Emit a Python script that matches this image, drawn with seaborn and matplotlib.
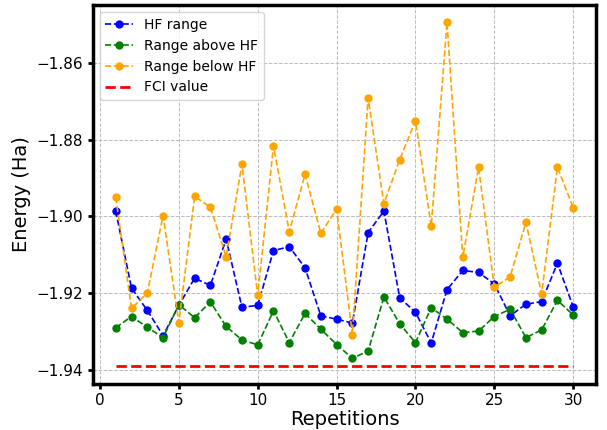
import numpy as np
import pandas as pd
import seaborn as sns
from matplotlib import pyplot as plt

reps = list(range(1, 31))

hf_range = [-1.8986, -1.9187, -1.9245, -1.9311, -1.9232, -1.9161, -1.9180, -1.9059, -1.9237, -1.9232,
            -1.9089, -1.9079, -1.9134, -1.9259, -1.9268, -1.9278, -1.9042, -1.8986, -1.9212, -1.9250,
            -1.9330, -1.9191, -1.9141, -1.9146, -1.9176, -1.9259, -1.9229, -1.9222, -1.9122, -1.9236]

above_hf = [-1.9290, -1.9261, -1.9289, -1.9316, -1.9230, -1.9264, -1.9223, -1.9287, -1.9322, -1.9335,
            -1.9246, -1.9329, -1.9253, -1.9294, -1.9334, -1.9370, -1.9351, -1.9210, -1.9280, -1.9329,
            -1.9238, -1.9268, -1.9303, -1.9299, -1.9261, -1.9242, -1.9316, -1.9296, -1.9219, -1.9257]

below_hf = [-1.8950, -1.9240, -1.9200, -1.8998, -1.9277, -1.8948, -1.8976, -1.9105, -1.8864, -1.9206,
            -1.8816, -1.9040, -1.8890, -1.9044, -1.8981, -1.9308, -1.8691, -1.8967, -1.8852, -1.8750,
            -1.9026, -1.8494, -1.9107, -1.8872, -1.9184, -1.9158, -1.9015, -1.9202, -1.8872, -1.8977]

fci_value = -1.9391

df = pd.DataFrame({
    'rep': reps,
    'HF range': hf_range,
    'Range above HF': above_hf,
    'Range below HF': below_hf,
})

fig, ax = plt.subplots(figsize=(6.07, 4.3), dpi=100)
fig.subplots_adjust(left=0.153, right=0.982, top=0.988, bottom=0.108)

styles = [('HF range', 'blue'), ('Range above HF', 'green'), ('Range below HF', 'orange')]
for name, color in styles:
    sns.lineplot(data=df, x='rep', y=name, ax=ax, color=color, linestyle='--', marker='o',
                 markersize=6, markeredgewidth=0, linewidth=1.2, label=name)

ax.plot([reps[0], reps[-1]], [fci_value, fci_value], color='red', linestyle='--', linewidth=2,
        label='FCI value')

ax.set_xticks([0, 5, 10, 15, 20, 25, 30])
ax.set_yticks([-1.94, -1.92, -1.90, -1.88, -1.86])
ax.grid(True, linestyle='--', color='#bbbbbb', linewidth=0.7)
ax.set_xlabel('Repetitions', fontsize=14, labelpad=1)
ax.set_ylabel('Energy (Ha)', fontsize=14)
ax.tick_params(labelsize=11, width=2)
for s in ax.spines.values():
    s.set_linewidth(2.5)
ax.legend(loc='upper left', fontsize=10)

plt.savefig('out.png')
